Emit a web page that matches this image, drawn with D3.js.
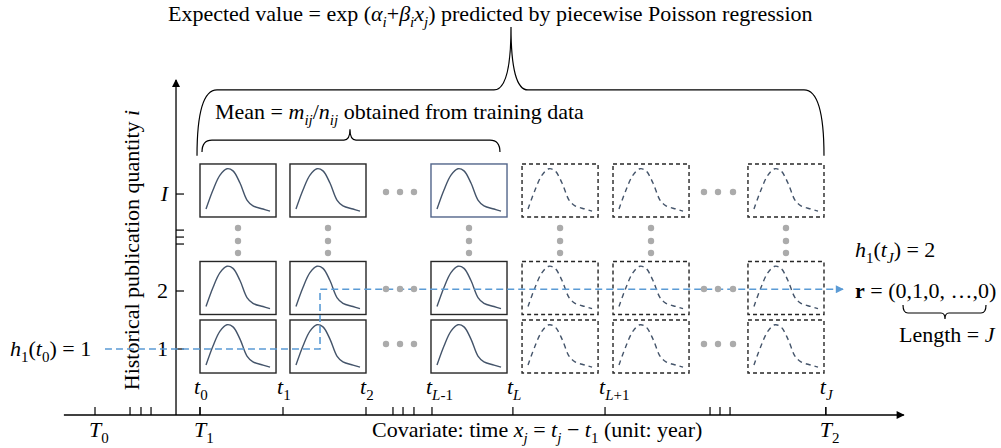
<!DOCTYPE html>
<html>
<head>
<meta charset="utf-8">
<script src="https://d3js.org/d3.v7.min.js"></script>
<style>
  body { margin: 0; background: #fff; }
  svg text { font-family: 'Liberation Serif', 'Times New Roman', Times, 'DejaVu Serif', serif; font-size: 22px; fill: #000; }
</style>
</head>
<body>
<svg></svg>
<script>
// time axis in slot units (t0 = 0, t1 = 1)
var timeLabels = [["t", "0"], ["t", "1"], ["t", "2"], ["t", "L-1"], ["t", "L"], ["t", "L+1"], ["t", "J"]];
var timePos = [0, 1, 2, 2.795, 3.77, 4.88, 7.54];
var bigTLabels = [["T", "0"], ["T", "1"], ["T", "2"]];
var bigTPos = [-1.265, 0, 7.54];
var minorPos = [-0.843, -0.711, -0.59, 2.325, 2.446, 2.578, 6.145, 6.265, 6.386];

// quantity axis (levels)
var levelLabels = ["1", "2", "I"];
var levelPos = [1, 2, 3.672];
var breakLevels = [3.05, 2.93, 2.81];

// grid of boxes
var colStart = [0, 1.084, 2.783, 3.88, 4.976, 6.602];
var colObserved = [true, true, true, false, false, false];
var rowLevel = [1.043, 2.052, 3.733];

// peak shape drawn in every box (fraction of box width / height)
var shapeX = [0.079, 0.171, 0.263, 0.355, 0.434, 0.526, 0.618, 0.697, 0.829, 0.921];
var shapeY = [0.15, 0.51, 0.79, 0.91, 0.87, 0.64, 0.32, 0.21, 0.15, 0.11];

// grey ellipsis dots
var hDotX = [[2.241, 2.41, 2.578], [6.072, 6.241, 6.422]];
var hDotLevel = [1.086, 2.034, 3.707];
var vDotLevel = [3.086, 2.862, 2.655];

// h1 path
var pathX = [-1.145, 1.446, 1.446, 7.747];
var pathLevel = [1, 1, 2.03, 2.03];

var width = 1001, height = 448;
var svg = d3.select("svg").attr("width", width).attr("height", height);
var FONT = "'Liberation Serif', 'Times New Roman', Times, 'DejaVu Serif', serif";

var x = d3.scaleLinear().domain([0, 1]).range([200, 283]);
var y = d3.scaleLinear().domain([1, 2]).range([349, 291]);
var boxW = 0.916, boxHalf = 0.457;

var defs = svg.append("defs");
function arrowMarker(id, col) {
  defs.append("marker")
      .attr("id", id)
      .attr("viewBox", "0 0 10 10")
      .attr("refX", 9).attr("refY", 5)
      .attr("markerWidth", 9).attr("markerHeight", 8)
      .attr("markerUnits", "userSpaceOnUse")
      .attr("orient", "auto")
    .append("path")
      .attr("d", "M0,0 L10,5 L0,10 Z")
      .attr("fill", col);
}
arrowMarker("arrK", "#000");
arrowMarker("arrB", "#5b9bd5");

// rich text helper: parts = [[str, flags]] flags: i italic, s sub, b bold
function rich(g, px, py, parts, anchor, size) {
  size = size || 22;
  var t = g.append("text").attr("x", px).attr("y", py)
      .attr("text-anchor", anchor || "start")
      .attr("font-family", FONT)
      .style("font-family", FONT)
      .style("font-size", size + "px");
  var shift = 0;
  parts.forEach(function(p) {
    var f = p[1] || "";
    var target = f.indexOf("s") >= 0 ? Math.round(size * 0.25) : 0;
    var ts = t.append("tspan").text(p[0]).attr("dy", target - shift);
    shift = target;
    if (f.indexOf("s") >= 0) ts.style("font-size", Math.round(size * 0.7) + "px");
    if (f.indexOf("i") >= 0) ts.style("font-style", "italic");
    if (f.indexOf("b") >= 0) ts.style("font-weight", "bold");
  });
  return t;
}

// axes
var axisY = 415;
svg.append("line")
    .attr("x1", x(-1.64)).attr("x2", x(8.48))
    .attr("y1", axisY).attr("y2", axisY)
    .attr("stroke", "#000").attr("stroke-width", 1.3)
    .attr("marker-end", "url(#arrK)");
svg.append("line")
    .attr("x1", x(-0.289)).attr("x2", x(-0.289))
    .attr("y1", axisY).attr("y2", y(5.64))
    .attr("stroke", "#000").attr("stroke-width", 1.3)
    .attr("marker-end", "url(#arrK)");

// x ticks
var allTicks = timePos.concat(bigTPos, minorPos);
svg.append("g").selectAll("line")
  .data(allTicks)
  .enter().append("line")
    .attr("x1", function(d) { return x(d); })
    .attr("x2", function(d) { return x(d); })
    .attr("y1", axisY).attr("y2", axisY - 8)
    .attr("stroke", "#000").attr("stroke-width", 1.2);

var tg = svg.append("g");
timeLabels.forEach(function(l, i) {
  var sub = l[1];
  var parts = [[l[0], "i"]];
  if (sub.indexOf("L") === 0) {
    parts.push(["L", "si"]);
    if (sub.length > 1) parts.push([sub.slice(1), "s"]);
  } else if (sub === "J") {
    parts.push(["J", "si"]);
  } else {
    parts.push([sub, "s"]);
  }
  rich(tg, x(timePos[i]) - 6, 394, parts);
});
bigTLabels.forEach(function(l, i) {
  rich(tg, x(bigTPos[i]) - 6, 437, [[l[0], "i"], [l[1], "s"]]);
});
rich(tg, 372, 437, [["Covariate: time "], ["x", "i"], ["j", "si"], [" = "], ["t", "i"], ["j", "si"],
  [" \u2212 "], ["t", "i"], ["1", "s"], [" (unit: year)"]]);

// y ticks
var yAxisX = x(-0.289);
svg.append("g").selectAll("line")
  .data(levelPos.concat(breakLevels))
  .enter().append("line")
    .attr("x1", yAxisX).attr("x2", yAxisX + 8)
    .attr("y1", function(d) { return y(d); })
    .attr("y2", function(d) { return y(d); })
    .attr("stroke", "#000").attr("stroke-width", 1.2);
levelLabels.forEach(function(l, i) {
  rich(svg, 168, y(levelPos[i]) + 7, [[l, l === "I" ? "i" : ""]], "end");
});
var yl = rich(svg, 0, 0, [["Historical publication quantity "], ["i", "i"]], "middle");
yl.attr("transform", "translate(139,250) rotate(-90)");

// boxes and curves
var cells = [];
colStart.forEach(function(c, ci) {
  rowLevel.forEach(function(r, ri) {
    cells.push({ c: c, r: r, obs: colObserved[ci], edge: ci === 2 && ri === 2 });
  });
});
var shape = shapeX.map(function(d, i) { return [d, shapeY[i]]; });
var cg = svg.append("g");
cells.forEach(function(d) {
  var bx = d3.scaleLinear().domain([0, 1]).range([x(d.c), x(d.c + boxW)]);
  var by = d3.scaleLinear().domain([0, 1]).range([y(d.r - boxHalf), y(d.r + boxHalf)]);
  cg.append("rect")
      .attr("x", bx(0)).attr("y", by(1))
      .attr("width", bx(1) - bx(0)).attr("height", by(0) - by(1))
      .attr("fill", "#fff")
      .attr("stroke", d.edge ? "#52658a" : "#262626")
      .attr("stroke-width", 1.4)
      .attr("stroke-dasharray", d.obs ? null : "4,3");
  var line = d3.line()
      .x(function(p) { return bx(p[0]); })
      .y(function(p) { return by(p[1]); })
      .curve(d3.curveCatmullRom);
  cg.append("path")
      .attr("d", line(shape))
      .attr("fill", "none")
      .attr("stroke", "#44546a")
      .attr("stroke-width", 1.4)
      .attr("stroke-dasharray", d.obs ? null : "5,4");
});

// grey dots
var dots = [];
hDotX.forEach(function(xs) {
  xs.forEach(function(dx) {
    hDotLevel.forEach(function(l) { dots.push([dx, l]); });
  });
});
colStart.forEach(function(c) {
  vDotLevel.forEach(function(l) { dots.push([c + boxW / 2, l]); });
});

// h1 dashed path
var hp = d3.line()
    .x(function(d) { return x(d[0]); })
    .y(function(d) { return y(d[1]); });
svg.append("path")
    .attr("d", hp(pathX.map(function(d, i) { return [d, pathLevel[i]]; })))
    .attr("fill", "none")
    .attr("stroke", "#5b9bd5")
    .attr("stroke-width", 1.6)
    .attr("stroke-dasharray", "7,4")
    .attr("marker-end", "url(#arrB)");

svg.append("g").selectAll("circle")
  .data(dots)
  .enter().append("circle")
    .attr("cx", function(d) { return x(d[0]); })
    .attr("cy", function(d) { return y(d[1]); })
    .attr("r", 3.2)
    .attr("fill", "#ababab");

// braces
function brace(xa, xb, xt, yEnd, yBar, yTip, rEnd, rTip) {
  var p = d3.path();
  p.moveTo(xa, yEnd);
  p.quadraticCurveTo(xa, yBar, xa + rEnd, yBar);
  p.lineTo(xt - rTip, yBar);
  p.quadraticCurveTo(xt, yBar, xt, yTip);
  p.quadraticCurveTo(xt, yBar, xt + rTip, yBar);
  p.lineTo(xb - rEnd, yBar);
  p.quadraticCurveTo(xb, yBar, xb, yEnd);
  return p.toString();
}
var bg = svg.append("g").attr("fill", "none").attr("stroke", "#000").attr("stroke-width", 1.2);
bg.append("path").attr("d", brace(x(-0.036), x(7.518), x(3.747), y(4.33), y(5.466), y(6.55), 20, 17));
bg.append("path").attr("d", brace(x(0.024), x(3.614), x(1.807), y(4.397), y(4.603), y(4.79), 10, 6));
bg.append("path").attr("d", brace(903, 986, 945, 305, 313, 319, 5, 4));

// annotations
rich(svg, 168, 21, [["Expected value = exp ("], ["\u03b1", "i"], ["i", "si"], ["+"], ["\u03b2", "i"], ["i", "si"],
  ["x", "i"], ["j", "si"], [") predicted by piecewise Poisson regression"]]);
rich(svg, 215, 119, [["Mean = "], ["m", "i"], ["ij", "si"], ["/"], ["n", "i"], ["ij", "si"], [" obtained from training data"]]);
rich(svg, 10, 356, [["h", "i"], ["1", "s"], ["("], ["t", "i"], ["0", "s"], [") = 1"]]);
rich(svg, 855, 257, [["h", "i"], ["1", "s"], ["("], ["t", "i"], ["J", "si"], [") = 2"]]);
rich(svg, 855, 298, [["r", "b"], [" = (0,1,0, \u2026,0)"]]);
rich(svg, 899, 342, [["Length = "], ["J", "i"]]);
</script>
</body>
</html>
